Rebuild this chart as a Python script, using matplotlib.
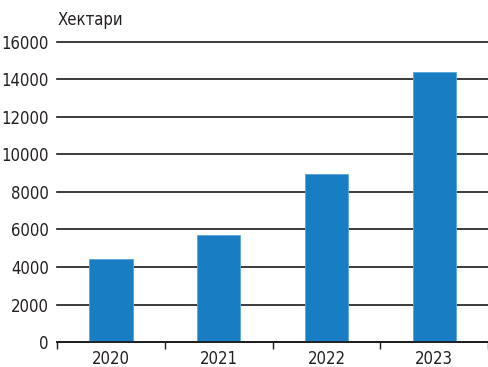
import matplotlib.pyplot as plt
import numpy as np

years = ['2020', '2021', '2022', '2023']
hectares = [4450, 5700, 8950, 14400]
yticks = [0, 2000, 4000, 6000, 8000, 10000, 12000, 14000, 16000]

plt.rcParams['font.family'] = ['DejaVu Sans']
plt.rcParams['font.stretch'] = 'condensed'

fig = plt.figure(figsize=(4.88, 3.67), dpi=100)
ax = fig.add_axes([0.117, 0.068, 0.883, 0.818])

x = np.arange(len(years))
ax.set_axisbelow(True)
ax.yaxis.grid(True, color='#1a1a1a', linewidth=1.2)
ax.bar(x, hectares, width=0.4, color='#187dc2', edgecolor='#5aa4d8', linewidth=0.6)

ax.set_xlim(-0.5, len(years) - 0.5)
ax.set_ylim(0, 16000)
ax.set_yticks(yticks)
ax.set_yticklabels([str(v) for v in yticks], fontsize=12, color='#231f20')
ax.set_xticks(x)
ax.set_xticklabels(years, fontsize=12, color='#231f20')
ax.set_xticks(np.arange(len(years) + 1) - 0.5, minor=True)
ax.tick_params(axis='x', which='major', length=0, pad=6)
ax.tick_params(axis='x', which='minor', length=5, width=1, color='#1a1a1a')
ax.tick_params(axis='y', length=0, pad=6)
for gl in ax.get_ygridlines():
    gl.set_clip_on(False)

for s in ['top', 'right', 'left']:
    ax.spines[s].set_visible(False)
ax.spines['bottom'].set_color('#1a1a1a')
ax.spines['bottom'].set_linewidth(1.2)

fig.text(0.117, 0.945, 'Хектари', fontsize=12, color='#231f20', va='center')

fig.savefig('out.png', dpi=100)
